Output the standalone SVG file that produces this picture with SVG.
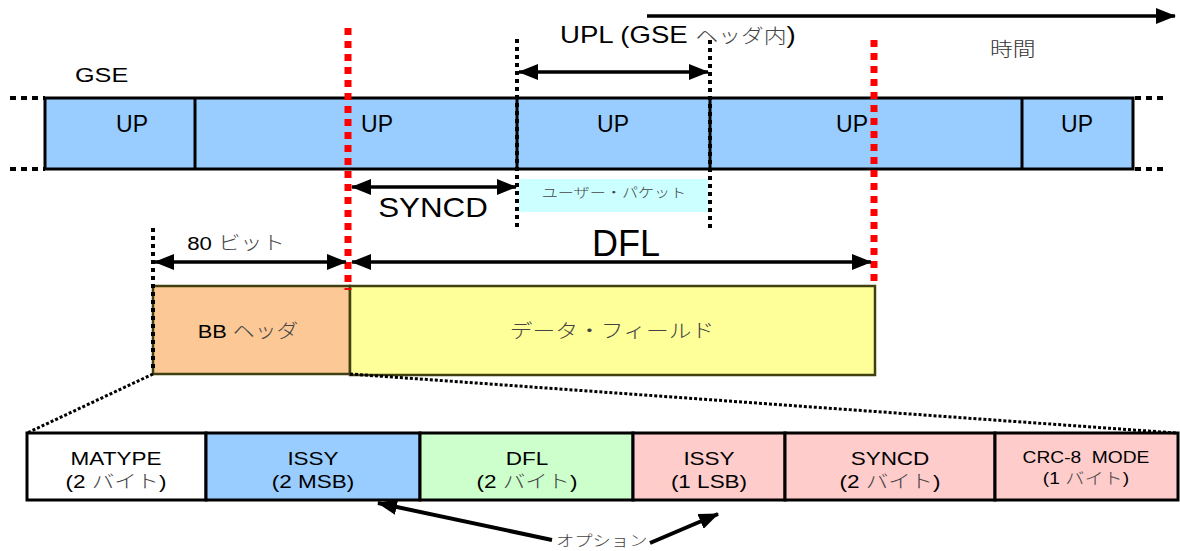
<svg xmlns="http://www.w3.org/2000/svg" width="1180" height="551" viewBox="0 0 1180 551">
<style>
.lat{font-family:"Liberation Sans",Arial,sans-serif;fill:#000}
.jp{font-family:"Noto Sans CJK JP","Noto Sans",sans-serif;fill:#444;font-weight:300}
.box{stroke:#000;stroke-width:3}
.dotk{stroke:#000;stroke-width:4;stroke-dasharray:4 4;fill:none}
.dotr{stroke:#f00;stroke-width:7;stroke-dasharray:7 6;fill:none}
.thin{stroke:#000;stroke-width:3;stroke-dasharray:3 2;fill:none}
.arr{stroke:#000;stroke-width:3.5;fill:none}
.pre{white-space:pre}
</style>
<defs>
<marker id="ah" markerUnits="userSpaceOnUse" markerWidth="20" markerHeight="16" refX="19" refY="8" orient="auto-start-reverse">
<path d="M0,0 L20,8 L0,16 Z" fill="#000"/>
</marker>
</defs>

<g id="time-axis">
<line x1="647" y1="16" x2="1175" y2="16" class="arr" marker-end="url(#ah)"/>
<text transform="translate(990 56) scale(1.2 1)" class="jp" font-size="19" style="fill:#333">時間</text>
</g>

<g id="gse-label"><text transform="translate(75 82) scale(1.2 1)" class="lat" font-size="21">GSE</text></g>

<g id="gse-bar">
<rect x="45" y="98" width="1088" height="71" fill="#99ccff" class="box"/>
<line x1="195" y1="98" x2="195" y2="169" class="box"/>
<line x1="517" y1="98" x2="517" y2="169" class="box"/>
<line x1="710" y1="98" x2="710" y2="169" class="box"/>
<line x1="1022" y1="98" x2="1022" y2="169" class="box"/>
<line x1="10" y1="98" x2="45" y2="98" stroke="#000" stroke-width="4" stroke-dasharray="6 5"/>
<line x1="10" y1="169" x2="45" y2="169" stroke="#000" stroke-width="4" stroke-dasharray="6 5"/>
<line x1="1135" y1="98" x2="1168" y2="98" stroke="#000" stroke-width="4" stroke-dasharray="6 5"/>
<line x1="1135" y1="169" x2="1168" y2="169" stroke="#000" stroke-width="4" stroke-dasharray="6 5"/>
<g class="lat" font-size="23" text-anchor="middle">
<text x="132" y="132">UP</text>
<text x="377" y="132">UP</text>
<text x="613" y="132">UP</text>
<text x="852" y="132">UP</text>
<text x="1077" y="132">UP</text>
</g>
</g>

<g id="user-packet">
<rect x="519" y="179" width="189" height="33" fill="#ccffff"/>
<text transform="translate(614 197) scale(1.24 1)" class="jp" font-size="13" text-anchor="middle">ユーザー・パケット</text>
</g>

<g id="bb-header">
<rect x="153" y="286" width="197" height="88" fill="#fcc896" stroke="#404010" stroke-width="2.5"/>
<text transform="translate(248 338) scale(1.15 1)" text-anchor="middle" font-size="19"><tspan class="lat">BB </tspan><tspan class="jp">ヘッダ</tspan></text>
</g>

<g id="data-field">
<rect x="350" y="286" width="525" height="89" fill="#ffff99" stroke="#404010" stroke-width="2.5"/>
<text transform="translate(612 338) scale(1.2 1)" class="jp" font-size="19" text-anchor="middle">データ・フィールド</text>
</g>

<g id="bb-fields">
<rect x="27" y="433" width="179" height="67" fill="#ffffff" class="box"/>
<rect x="206" y="433" width="214" height="67" fill="#99ccff" class="box"/>
<rect x="420" y="433" width="213" height="67" fill="#ccffcc" class="box"/>
<rect x="633" y="433" width="152" height="67" fill="#ffcccc" class="box"/>
<rect x="785" y="433" width="210" height="67" fill="#ffcccc" class="box"/>
<rect x="995" y="433" width="183" height="67" fill="#ffcccc" class="box"/>
<g font-size="18" text-anchor="middle">
<text transform="translate(116 465) scale(1.25 1)" class="lat">MATYPE</text>
<text transform="translate(116 488) scale(1.25 1)"><tspan class="lat">(2 </tspan><tspan class="jp">バイト</tspan><tspan class="lat">)</tspan></text>
<text transform="translate(313 465) scale(1.25 1)" class="lat">ISSY</text>
<text transform="translate(313 488) scale(1.25 1)" class="lat">(2 MSB)</text>
<text transform="translate(527 465) scale(1.25 1)" class="lat">DFL</text>
<text transform="translate(527 488) scale(1.25 1)"><tspan class="lat">(2 </tspan><tspan class="jp">バイト</tspan><tspan class="lat">)</tspan></text>
<text transform="translate(709 465) scale(1.25 1)" class="lat">ISSY</text>
<text transform="translate(709 488) scale(1.25 1)" class="lat">(1 LSB)</text>
<text transform="translate(890 465) scale(1.25 1)" class="lat">SYNCD</text>
<text transform="translate(890 488) scale(1.25 1)"><tspan class="lat">(2 </tspan><tspan class="jp">バイト</tspan><tspan class="lat">)</tspan></text>
<text transform="translate(1086 463) scale(1.2 1)" class="lat pre" font-size="16">CRC-8  MODE</text>
<text transform="translate(1086 484) scale(1.2 1)" font-size="16"><tspan class="lat">(1 </tspan><tspan class="jp">バイト</tspan><tspan class="lat">)</tspan></text>
</g>
</g>

<g id="option-label">
<text transform="translate(556 546) scale(1.22 1)" class="jp" font-size="15">オプション</text>
</g>

<g id="connectors">
<line x1="348" y1="28" x2="348" y2="290" class="dotr"/>
<line x1="874" y1="40" x2="874" y2="287" class="dotr"/>
<line x1="517" y1="39" x2="517" y2="229" class="dotk"/>
<line x1="710" y1="40" x2="710" y2="229" class="dotk"/>
<line x1="153" y1="228" x2="153" y2="372" class="dotk"/>
<line x1="153" y1="374" x2="27" y2="433" class="thin"/>
<line x1="350" y1="374" x2="1176" y2="433" class="thin"/>
<line x1="519" y1="72" x2="708" y2="72" class="arr" marker-start="url(#ah)" marker-end="url(#ah)"/>
<line x1="352" y1="187" x2="516" y2="187" class="arr" marker-start="url(#ah)" marker-end="url(#ah)"/>
<line x1="155" y1="262" x2="346" y2="262" class="arr" marker-start="url(#ah)" marker-end="url(#ah)"/>
<line x1="352" y1="262" x2="871" y2="262" class="arr" marker-start="url(#ah)" marker-end="url(#ah)"/>
<line x1="552" y1="540" x2="378" y2="503" stroke="#000" stroke-width="4" marker-end="url(#ah)"/>
<line x1="650" y1="543" x2="718" y2="514" stroke="#000" stroke-width="4" marker-end="url(#ah)"/>
</g>

<g id="dimension-labels">
<text transform="translate(560 43) scale(1.2 1)" font-size="23"><tspan class="lat">UPL (GSE </tspan><tspan class="jp" font-size="19">ヘッダ内</tspan><tspan class="lat">)</tspan></text>
<text transform="translate(433 217) scale(1.12 1)" class="lat" font-size="28" text-anchor="middle">SYNCD</text>
<text transform="translate(236 250) scale(1.17 1)" font-size="19" text-anchor="middle"><tspan class="lat">80 </tspan><tspan class="jp">ビット</tspan></text>
<text x="626" y="256" class="lat" font-size="36" text-anchor="middle">DFL</text>
</g>
</svg>
